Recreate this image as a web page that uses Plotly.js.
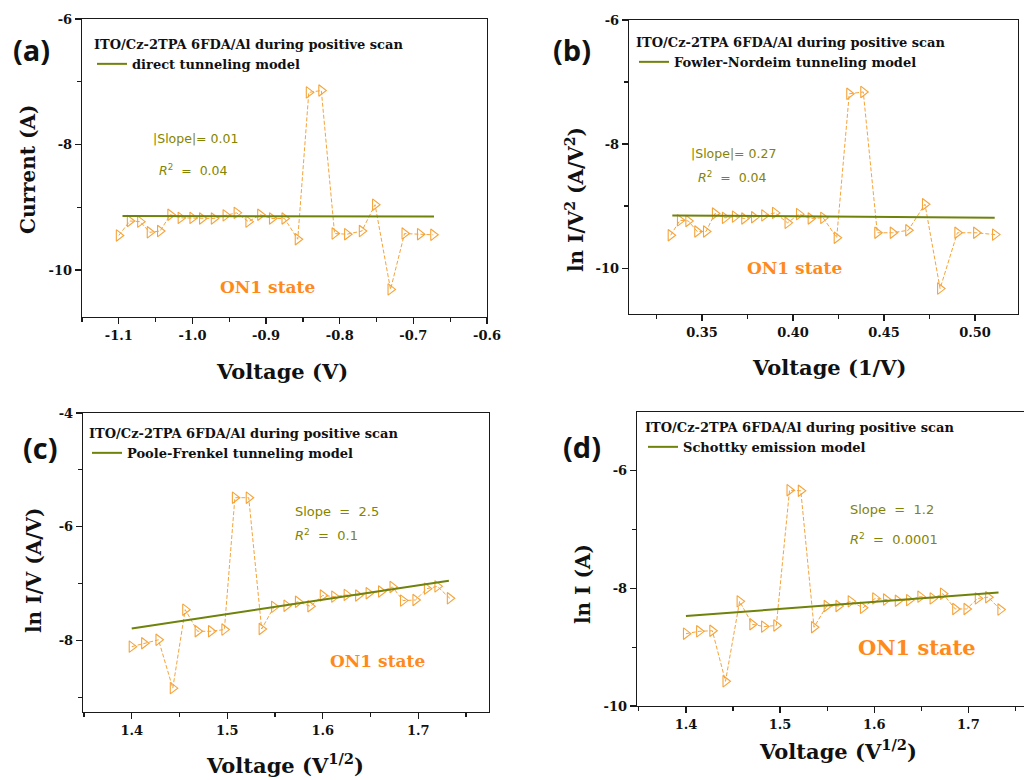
<!DOCTYPE html>
<html>
<head>
<meta charset="utf-8">
<script src="https://cdn.plot.ly/plotly-3.0.1.min.js"></script>
<style>
html,body{margin:0;padding:0;overflow:hidden;background:#fff;}
#chart{width:1045px;height:780px;}
</style>
</head>
<body>
<div id="chart"></div>
<script>
// ---------- data ----------
const vA = [-1.100,-1.085,-1.071,-1.058,-1.044,-1.030,-1.016,-1.000,-0.987,-0.971,-0.955,-0.940,-0.924,-0.908,-0.892,-0.875,-0.857,-0.842,-0.825,-0.807,-0.790,-0.770,-0.752,-0.731,-0.712,-0.691,-0.673];
const iA = [-9.45,-9.22,-9.23,-9.40,-9.38,-9.12,-9.17,-9.17,-9.18,-9.18,-9.13,-9.09,-9.23,-9.12,-9.18,-9.18,-9.51,-7.17,-7.14,-9.42,-9.43,-9.38,-8.96,-10.31,-9.42,-9.43,-9.44];
const fitXA = [-1.095,-0.672];
const fitYA = [-9.14,-9.15];

const vB = [0.3328,0.3379,0.3425,0.3474,0.3522,0.3571,0.3626,0.3681,0.3732,0.3786,0.3842,0.3901,0.3970,0.4033,0.4097,0.4166,0.4240,0.4309,0.4386,0.4463,0.4548,0.4633,0.4725,0.4808,0.4903,0.5006,0.5110];
const iB = [-9.47,-9.23,-9.24,-9.41,-9.41,-9.12,-9.19,-9.17,-9.20,-9.18,-9.15,-9.11,-9.27,-9.13,-9.20,-9.19,-9.51,-7.19,-7.16,-9.43,-9.43,-9.39,-8.97,-10.33,-9.43,-9.43,-9.46];
const fitXB = [0.3337,0.5108];
const fitYB = [-9.15,-9.19];

const vC = [1.400,1.413,1.428,1.443,1.456,1.469,1.483,1.497,1.508,1.5225,1.536,1.549,1.562,1.574,1.587,1.600,1.612,1.625,1.637,1.648,1.661,1.673,1.684,1.697,1.709,1.720,1.733];
const iC = [-8.11,-8.05,-7.99,-8.84,-7.46,-7.84,-7.84,-7.81,-5.49,-5.49,-7.80,-7.41,-7.39,-7.32,-7.40,-7.21,-7.23,-7.20,-7.21,-7.17,-7.14,-7.06,-7.30,-7.29,-7.09,-7.05,-7.26];
const fitXC = [1.400,1.732];
const fitYC = [-7.79,-6.95];

const vD = [1.400,1.414,1.428,1.442,1.457,1.4705,1.483,1.496,1.510,1.522,1.536,1.5495,1.562,1.575,1.588,1.601,1.6125,1.625,1.637,1.649,1.662,1.673,1.686,1.698,1.710,1.721,1.734];
const iD = [-8.77,-8.73,-8.72,-9.58,-8.22,-8.61,-8.65,-8.63,-6.33,-6.34,-8.66,-8.30,-8.30,-8.22,-8.33,-8.17,-8.19,-8.21,-8.20,-8.14,-8.17,-8.09,-8.35,-8.35,-8.17,-8.15,-8.36];
const fitXD = [1.400,1.732];
const fitYD = [-8.47,-8.07];

// ---------- ticks & labels ----------
const xTicksA = [-1.1,-1.0,-0.9,-0.8,-0.7,-0.6];
const xTickTextA = ['-1.1','-1.0','-0.9','-0.8','-0.7','-0.6'];
const xMinorA = [-1.15,-1.05,-0.95,-0.85,-0.75,-0.65];
const xTicksB = [0.35,0.40,0.45,0.50];
const xTickTextB = ['0.35','0.40','0.45','0.50'];
const xMinorB = [0.325,0.375,0.425,0.475,0.525];
const xTicksCD = [1.4,1.5,1.6,1.7];
const xTickTextCD = ['1.4','1.5','1.6','1.7'];
const xMinorCD = [1.35,1.45,1.55,1.65,1.75];
const yTicksAB = [-10,-8,-6];
const yTickTextAB = ['-10','-8','-6'];
const yMinorAB = [-9,-7];
const yTicksC = [-8,-6,-4];
const yTickTextC = ['-8','-6','-4'];
const yMinorC = [-9,-7,-5];
const yTicksD = [-10,-8,-6];
const yTickTextD = ['-10','-8','-6'];
const yMinorD = [-9,-7];

const legendTitle = 'ITO/Cz-2TPA 6FDA/Al during positive scan';
const modelNames = ['direct tunneling model','Fowler-Nordeim tunneling model','Poole-Frenkel tunneling model','Schottky emission model'];
const panelLabels = ['(a)','(b)','(c)','(d)'];
const slopeTexts = ['|Slope|= 0.01','|Slope|= 0.27','Slope  =  2.5','Slope  =  1.2'];
const r2Texts = ['<i>R</i><sup>2</sup>  =  0.04','<i>R</i><sup>2</sup>  =  0.04','<i>R</i><sup>2</sup>  =  0.1','<i>R</i><sup>2</sup>  =  0.0001'];
const stateText = 'ON1 state';
const xTitles = ['Voltage (V)','Voltage (1/V)','Voltage (V<sup>1/2</sup>)','Voltage (V<sup>1/2</sup>)'];
const yTitles = ['Current (A)','ln I/V<sup>2</sup> (A/V<sup>2</sup>)','ln I/V (A/V)','ln I (A)'];

// ---------- styling ----------
const W = 1045, H = 780;
const fx = p => p / W;
const fy = p => 1 - p / H;
const DATA_C = '#F5A43A';
const FIT_C = '#6F820A';
const NOTE_C = '#848400';
const STATE_C = '#FF8A1C';
const AX_C = '#1a1a1a';
const SERIF = 'DejaVu Serif';
const bold = arr => arr.map(s => '<b>' + s + '</b>');

function dataTrace(x, y, xa, ya) {
  return {x: x, y: y, xaxis: xa, yaxis: ya, type: 'scatter', mode: 'lines+markers',
    showlegend: false, hoverinfo: 'skip',
    line: {color: DATA_C, width: 1, dash: '4px,2px'},
    marker: {symbol: 'triangle-right-open', size: 10, color: DATA_C, line: {color: DATA_C, width: 1.1}}};
}
function fitTrace(x, y, xa, ya, name, lg) {
  return {x: x, y: y, xaxis: xa, yaxis: ya, type: 'scatter', mode: 'lines', name: name,
    legend: lg, hoverinfo: 'skip', line: {color: FIT_C, width: 2}};
}

const traces = [
  dataTrace(vA, iA, 'x', 'y'), fitTrace(fitXA, fitYA, 'x', 'y', modelNames[0], 'legend'),
  dataTrace(vB, iB, 'x2', 'y2'), fitTrace(fitXB, fitYB, 'x2', 'y2', modelNames[1], 'legend2'),
  dataTrace(vC, iC, 'x3', 'y3'), fitTrace(fitXC, fitYC, 'x3', 'y3', modelNames[2], 'legend3'),
  dataTrace(vD, iD, 'x4', 'y4'), fitTrace(fitXD, fitYD, 'x4', 'y4', modelNames[3], 'legend4')
];

function axis(dom, range, anchor, tv, tt, mv) {
  return {domain: dom, range: range, anchor: anchor, autorange: false,
    showline: true, mirror: true, linecolor: AX_C, linewidth: 1.3,
    showgrid: false, zeroline: false,
    ticks: 'outside', ticklen: 6, tickwidth: 1.2, tickcolor: AX_C,
    tickmode: 'array', tickvals: tv, ticktext: bold(tt),
    tickfont: {family: SERIF, size: 13, color: '#111'},
    minor: {tickmode: 'array', tickvals: mv, ticks: 'outside', ticklen: 4, tickwidth: 1.2, tickcolor: AX_C, showgrid: false}};
}

function legendAt(xp, yp) {
  return {x: fx(xp), y: fy(yp), xanchor: 'left', yanchor: 'top', xref: 'paper', yref: 'paper',
    bgcolor: 'rgba(0,0,0,0)', borderwidth: 0, tracegroupgap: 0, itemwidth: 30,
    title: {text: '<b>' + legendTitle + '</b>', font: {family: SERIF, size: 13, color: '#111'}},
    font: {family: SERIF, size: 13, color: '#111', weight: 'bold'}};
}

const ann = [];
function txt(x, y, text, font, opts) {
  ann.push(Object.assign({xref: 'paper', yref: 'paper', x: fx(x), y: fy(y), text: text,
    showarrow: false, font: font, xanchor: 'left', yanchor: 'middle'}, opts || {}));
}
const labelPos = [[31, 49], [572, 49], [40, 448], [582, 447]];
const xTitlePos = [[282, 371], [829, 367], [285, 764], [838, 750]];
const yTitlePos = [[28, 170], [575, 200], [34, 570], [583, 584]];
const slopePos = [[151, 138], [689, 154], [293, 511], [848, 509]];
const r2Pos = [[157, 170], [696, 177], [293, 535], [848, 539]];
const statePos = [[218, 287], [745, 268], [328, 661], [856, 647]];
const noteSize = [12.5, 12.5, 13, 13];
const stateSize = [17, 17, 17, 21];

for (let k = 0; k < 4; k++) {
  txt(labelPos[k][0], labelPos[k][1], '<b>' + panelLabels[k] + '</b>',
    {family: 'Open Sans', size: 29, color: '#111'}, {xanchor: 'center'});
  txt(xTitlePos[k][0], xTitlePos[k][1], '<b>' + xTitles[k] + '</b>',
    {family: SERIF, size: 21, color: '#111'}, {xanchor: 'center'});
  txt(yTitlePos[k][0], yTitlePos[k][1], '<b>' + yTitles[k] + '</b>',
    {family: SERIF, size: 20, color: '#111'}, {xanchor: 'center', textangle: -90});
  txt(slopePos[k][0], slopePos[k][1], slopeTexts[k], {family: 'DejaVu Sans', size: noteSize[k], color: NOTE_C});
  txt(r2Pos[k][0], r2Pos[k][1], r2Texts[k], {family: 'DejaVu Sans', size: noteSize[k], color: NOTE_C});
  txt(statePos[k][0], statePos[k][1], '<b>' + stateText + '</b>', {family: SERIF, size: stateSize[k], color: STATE_C});
}

const layout = {
  width: W, height: H, margin: {l: 0, r: 0, t: 0, b: 0},
  paper_bgcolor: '#fff', plot_bgcolor: '#fff',
  xaxis: axis([fx(82), fx(487)], [-1.15, -0.6], 'y', xTicksA, xTickTextA, xMinorA),
  yaxis: axis([fy(317), fy(19)], [-10.75, -6], 'x', yTicksAB, yTickTextAB, yMinorAB),
  xaxis2: axis([fx(629), fx(1018)], [0.3099, 0.5236], 'y2', xTicksB, xTickTextB, xMinorB),
  yaxis2: axis([fy(314), fy(20)], [-10.74, -6], 'x2', yTicksAB, yTickTextAB, yMinorAB),
  xaxis3: axis([fx(83), fx(489)], [1.349, 1.774], 'y3', xTicksCD, xTickTextCD, xMinorCD),
  yaxis3: axis([fy(712), fy(413)], [-9.26, -4], 'x3', yTicksC, yTickTextC, yMinorC),
  xaxis4: axis([fx(637), fx(1039)], [1.348, 1.775], 'y4', xTicksCD, xTickTextCD, xMinorCD),
  yaxis4: axis([fy(706), fy(412)], [-10, -5], 'x4', yTicksD, yTickTextD, yMinorD),
  legend: legendAt(92, 32),
  legend2: legendAt(634, 30),
  legend3: legendAt(87, 421),
  legend4: legendAt(643, 415),
  annotations: ann
};

Plotly.newPlot('chart', traces, layout, {displayModeBar: false, staticPlot: true});
</script>
</body>
</html>
